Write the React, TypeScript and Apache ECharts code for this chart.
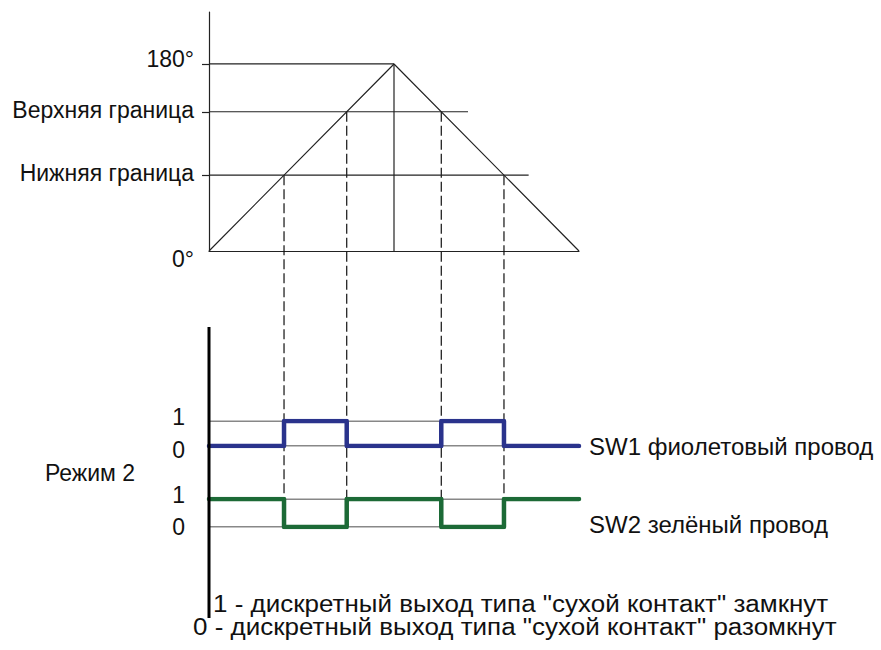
import React, { useEffect, useRef } from 'react';
import * as echarts from 'echarts';

const FONT = "'Liberation Sans', Arial, sans-serif";

// top diagram: angle versus phase
const phaseX = [0, 180, 360];
const angleY = [0, 180, 0];
const angleAxisMax = 230;
const levelValues = [180, 134, 73];
const levelLineEnds = [180, 252, 311];
const axisTickLabels: Record<number, string> = {
  0: '0°',
  73: 'Нижняя граница',
  134: 'Верхняя граница',
  180: '180°',
};

// switching points (where the angle crosses the bounds)
const crossX = [73, 134, 226, 287];
const crossY = [73, 134, 134, 73];

// discrete outputs
const stepX = [0, 73, 134, 226, 287, 360];
const sw1 = [0, 1, 0, 1, 0, 0];
const sw2 = [1, 0, 1, 0, 1, 1];
const guideEnd = 287;

const sw1Name = 'SW1 фиолетовый провод';
const sw2Name = 'SW2 зелёный провод';
const modeLabel = 'Режим 2';
const legendLines = [
  '1 - дискретный выход типа "сухой контакт" замкнут',
  '0 - дискретный выход типа "сухой контакт" разомкнут',
];

const BLUE = '#2a338c';
const GREEN = '#1c6a36';
const INK = '#222';

export default function App() {
  const ref = useRef<HTMLDivElement>(null);
  useEffect(() => {
    if (!ref.current) return;
    const chart = echarts.init(ref.current, undefined, { renderer: 'svg' });

    const hiddenX = (gridIndex: number) => ({
      type: 'value', gridIndex, min: 0, max: 360,
      axisLine: { show: false }, axisTick: { show: false },
      axisLabel: { show: false }, splitLine: { show: false },
    });
    const swY = (gridIndex: number, lowPad: number) => ({
      type: 'value', gridIndex, min: 0, max: 1, interval: 1,
      axisLine: { show: false }, axisTick: { show: false }, splitLine: { show: false },
      axisLabel: {
        margin: 24, fontSize: 23, fontFamily: FONT, color: '#111',
        formatter: (v: number) => (v === 1 ? '{up|1}' : '{low|0}'),
        rich: {
          up: { fontSize: 23, fontFamily: FONT, color: '#111', padding: [0, 0, 8, 0] },
          low: { fontSize: 23, fontFamily: FONT, color: '#111', padding: [lowPad, 0, 0, 0] },
        },
      },
    });
    const seg = (pts: number[][], xi: number, color = INK, width = 1.2) => ({
      type: 'line', xAxisIndex: xi, yAxisIndex: xi, data: pts, symbol: 'none',
      silent: true, lineStyle: { color, width }, z: 2,
    });

    const series: any[] = [];
    series.push(seg(phaseX.map((x, i) => [x, angleY[i]]), 0));
    series.push(seg([[180, 0], [180, 180]], 0));
    levelValues.forEach((v, i) => series.push(seg([[0, v], [levelLineEnds[i], v]], 0)));
    [1, 2].forEach((g) => {
      series.push(seg([[0, 1], [guideEnd, 1]], g, '#111', 1));
      series.push(seg([[0, 0], [guideEnd, 0]], g, '#111', 1));
    });
    const endLabel = (text: string, dy: number) => ({
      show: true, formatter: text, distance: 10, offset: [0, dy],
      fontSize: 24, fontFamily: FONT, color: '#111',
    });
    series.push({
      type: 'line', xAxisIndex: 1, yAxisIndex: 1, step: 'end', symbol: 'none',
      data: stepX.map((x, i) => [x, sw1[i]]),
      lineStyle: { color: BLUE, width: 4.5, cap: 'round', join: 'round' },
      endLabel: endLabel(sw1Name, 0), z: 4,
    });
    series.push({
      type: 'line', xAxisIndex: 2, yAxisIndex: 2, step: 'end', symbol: 'none',
      data: stepX.map((x, i) => [x, sw2[i]]),
      lineStyle: { color: GREEN, width: 4.5, cap: 'round', join: 'round' },
      endLabel: endLabel(sw2Name, 25), z: 4,
    });

    chart.setOption({
      animation: false,
      grid: [
        { left: 209, top: 12, width: 370, height: 239, outerBoundsMode: 'none' },
        { left: 209, top: 421, width: 370, height: 25, outerBoundsMode: 'none' },
        { left: 209, top: 499, width: 370, height: 28, outerBoundsMode: 'none' },
      ],
      xAxis: [
        {
          type: 'value', gridIndex: 0, min: 0, max: 360,
          axisLine: { show: true, lineStyle: { color: INK, width: 1.2 } },
          axisTick: { show: false }, axisLabel: { show: false }, splitLine: { show: false },
        },
        hiddenX(1),
        hiddenX(2),
      ],
      yAxis: [
        {
          type: 'value', gridIndex: 0, min: 0, max: angleAxisMax,
          axisLine: { show: true, lineStyle: { color: INK, width: 1.2 } },
          axisTick: {
            show: true, length: 7, customValues: levelValues,
            lineStyle: { color: INK, width: 1.2 },
          },
          splitLine: { show: false },
          axisLabel: {
            customValues: [0, 73, 134, 180], margin: 15,
            fontSize: 23, fontFamily: FONT, color: '#111',
            formatter: (v: number) =>
              v === 0 ? `{low|${axisTickLabels[v]}}` : v === 180 ? `{up|${axisTickLabels[v]}}` : `{n|${axisTickLabels[v]}}`,
            rich: {
              n: { fontSize: 23, fontFamily: FONT, color: '#111', padding: [0, 0, 4, 0] },
              up: { fontSize: 23, fontFamily: FONT, color: '#111', padding: [0, 0, 10, 0] },
              low: { fontSize: 23, fontFamily: FONT, color: '#111', padding: [16, 0, 0, 0] },
            },
          },
        },
        swY(1, 8),
        swY(2, 0),
      ],
      series,
    });

    const px = (g: number, pt: number[]) => chart.convertToPixel({ gridIndex: g } as any, pt) as number[];
    const graphic: any[] = [];
    crossX.forEach((x, i) => {
      const a = px(0, [x, crossY[i]]);
      const b = px(2, [x, 0]);
      graphic.push({
        type: 'line', z: 1, silent: true,
        shape: { x1: a[0], y1: a[1], x2: b[0], y2: b[1] },
        style: { stroke: '#111', lineWidth: 1.2, lineDash: [10, 4] },
      });
    });
    const ax = px(1, [0, 0])[0];
    graphic.push({
      type: 'line', z: 5, silent: true,
      shape: { x1: ax, y1: 327, x2: ax, y2: 618 },
      style: { stroke: '#000', lineWidth: 3 },
    });
    graphic.push({
      type: 'text', left: 45, top: 461,
      style: { text: modeLabel, fontSize: 23, fontFamily: FONT, fill: '#111' },
    });
    legendLines.forEach((t, i) => {
      graphic.push({
        type: 'text', x: i === 0 ? 213 : 193, y: 604 + i * 23, scaleX: 1.13,
        style: {
          text: t, fontSize: 23, fontFamily: FONT, fill: '#111',
          verticalAlign: 'middle', align: 'left',
        },
      });
    });
    chart.setOption({ graphic });

    return () => chart.dispose();
  }, []);

  return (
    <div
      ref={ref}
      style={{ position: 'fixed', left: 0, top: 0, width: 881, height: 650, background: '#fff' }}
    />
  );
}
